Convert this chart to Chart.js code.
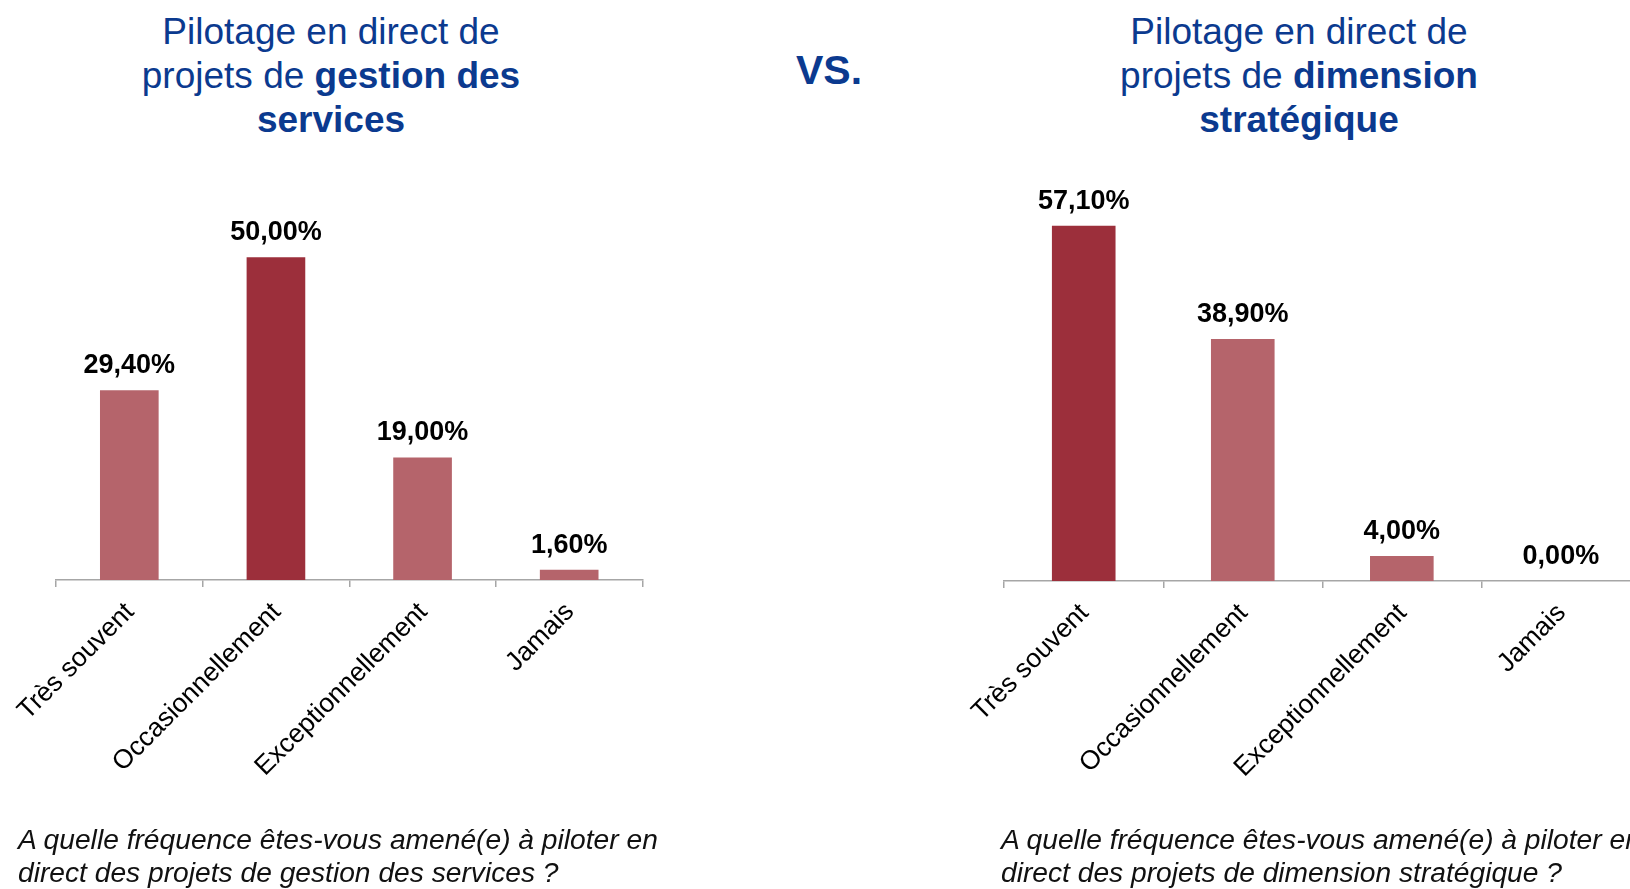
<!DOCTYPE html>
<html>
<head>
<meta charset="utf-8">
<script src="https://cdn.jsdelivr.net/npm/chart.js@4"></script>
<style>
  html, body { margin:0; padding:0; width:1630px; height:889px; overflow:hidden; background:#fff; }
  body { position:relative; font-family:"Liberation Sans", Arial, sans-serif; }
  .title { position:absolute; top:10px; width:600px; text-align:center; color:#0b3a8f; font-size:37px; line-height:44px; white-space:nowrap; }
  .title b { font-weight:bold; }
  .vs { position:absolute; left:796px; top:46px; color:#0b3a8f; font-size:41px; font-weight:bold; line-height:48px; }
  .question { position:absolute; top:823px; font-size:28.2px; line-height:33px; font-style:italic; color:#111; white-space:nowrap; }
  #wrapL { position:absolute; left:0; top:0; width:815px; height:889px; }
  #wrapR { position:absolute; left:800px; top:0; width:860px; height:889px; }
</style>
</head>
<body>
<div class="title" style="left:31px;">Pilotage en direct de<br>projets de <b>gestion des</b><br><b>services</b></div>
<div class="vs">VS.</div>
<div class="title" style="left:999px;">Pilotage en direct de<br>projets de <b>dimension</b><br><b>stratégique</b></div>
<div id="wrapL"><canvas id="chartL" width="815" height="889"></canvas></div>
<div id="wrapR"><canvas id="chartR" width="860" height="889"></canvas></div>
<div class="question" style="left:18px;">A quelle fréquence êtes-vous amené(e) à piloter en<br>direct des projets de gestion des services ?</div>
<div class="question" style="left:1001px;">A quelle fréquence êtes-vous amené(e) à piloter en<br>direct des projets de dimension stratégique ?</div>
<script>
const categories = ['Très souvent', 'Occasionnellement', 'Exceptionnellement', 'Jamais'];
const gestionValues = [29.4, 50.0, 19.0, 1.6];
const strategiqueValues = [57.1, 38.9, 4.0, 0.0];

const DARK = '#9c2f3b';
const LIGHT = '#b5646b';
const AXIS = '#a6a6a6';
const FONT = '"Liberation Sans", Arial, sans-serif';

function fmt(v) { return v.toFixed(2).replace('.', ',') + '%'; }

const valueLabels = {
  id: 'valueLabels',
  afterDatasetsDraw(chart) {
    const ctx = chart.ctx;
    const meta = chart.getDatasetMeta(0);
    const data = chart.data.datasets[0].data;
    ctx.save();
    ctx.font = 'bold 27px ' + FONT;
    ctx.fillStyle = '#000';
    ctx.textAlign = 'center';
    ctx.textBaseline = 'alphabetic';
    meta.data.forEach((bar, i) => {
      ctx.fillText(fmt(data[i]), bar.x, bar.y - 17);
    });
    ctx.restore();
  }
};

const tickLabels = {
  id: 'tickLabels',
  afterDraw(chart) {
    const ctx = chart.ctx;
    const xs = chart.scales.x;
    const y0 = xs.top;
    ctx.save();
    ctx.font = '26.5px ' + FONT;
    ctx.fillStyle = '#000';
    chart.data.labels.forEach((lab, i) => {
      const x = xs.getPixelForValue(i);
      ctx.save();
      ctx.translate(x + 6, y0 + 33);
      ctx.rotate(-Math.PI / 4);
      ctx.textAlign = 'right';
      ctx.textBaseline = 'alphabetic';
      ctx.fillText(lab, 0, 0);
      ctx.restore();
    });
    ctx.restore();
  }
};

function makeChart(id, values, padding) {
  const max = Math.max(...values);
  const colors = values.map(v => v === max ? DARK : LIGHT);
  return new Chart(document.getElementById(id), {
    type: 'bar',
    data: {
      labels: categories,
      datasets: [{ data: values, backgroundColor: colors, borderWidth: 0,
                   barPercentage: 0.4, categoryPercentage: 1.0 }]
    },
    options: {
      responsive: false,
      animation: false,
      events: [],
      layout: { padding: padding },
      plugins: { legend: { display: false }, tooltip: { enabled: false }, title: { display: false } },
      scales: {
        x: {
          grid: { display: true, drawOnChartArea: false, drawTicks: true, tickLength: 7,
                  color: AXIS, lineWidth: 1.5, offset: true },
          border: { display: true, color: AXIS, width: 1.5 },
          ticks: { display: false },
          afterFit: (s) => { s.height = 7; }
        },
        y: { display: false, min: 0, max: 60 }
      }
    },
    plugins: [valueLabels, tickLabels]
  });
}

makeChart('chartL', gestionValues, { left: 56, right: 172.5, top: 192.8, bottom: 302 });
makeChart('chartR', strategiqueValues, { left: 204.2, right: 19.6, top: 207.6, bottom: 301 });
</script>
</body>
</html>
